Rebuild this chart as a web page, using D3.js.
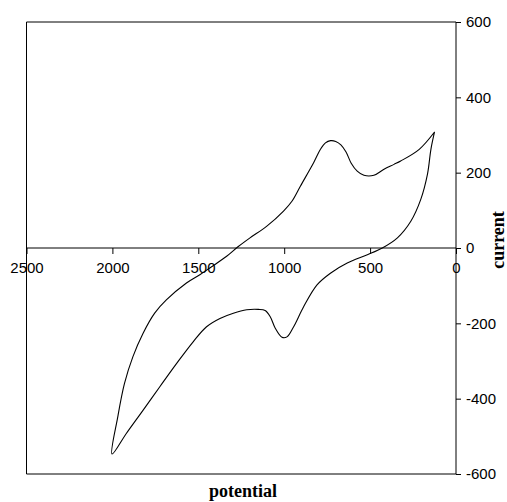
<!DOCTYPE html>
<html>
<head>
<meta charset="utf-8">
<script src="https://cdn.jsdelivr.net/npm/d3@7"></script>
<style>
  body { margin: 0; background: #fff; }
  svg { display: block; }
</style>
</head>
<body>
<svg id="chart" width="507" height="502"></svg>
<script>
// cyclic scan, one closed loop (potential, current)
var potential = [125, 214, 322, 361, 419, 478, 536, 575, 610, 640, 670, 700, 730, 760, 789, 828, 906, 955, 1004,
    1101, 1199, 1267, 1335, 1433, 1491, 1569, 1686, 1754, 1822, 1881, 1930, 1969, 2002,
    1920, 1822, 1725, 1627, 1530, 1452, 1374, 1296, 1218, 1150, 1111, 1082, 1052, 1013,
    984, 945, 887, 809, 731, 633, 516, 429, 341, 263, 205, 166, 146, 125];
var current = [308, 262, 231, 222, 209, 193, 193, 204, 225, 255, 274, 283, 285, 279, 262, 227, 164, 124, 98,
    58, 27, 4, -22, -53, -71, -93, -138, -173, -227, -289, -360, -449, -547,
    -493, -431, -369, -307, -249, -209, -187, -173, -164, -163, -166, -182, -213, -237,
    -236, -209, -156, -98, -67, -40, -18, 0, 27, 71, 129, 196, 262, 308];

var xTicks = [2500, 2000, 1500, 1000, 500, 0];
var yTicks = [600, 400, 200, 0, -200, -400, -600];

var svg = d3.select('#chart');
var plotLeft = 26.5, plotRight = 456, plotTop = 22, plotBottom = 474;

var x = d3.scaleLinear().domain([2500, 0]).range([plotLeft, plotRight]);
var y = d3.scaleLinear().domain([600, -600]).range([plotTop, plotBottom]);

// frame (top, left, bottom)
svg.append('path')
    .attr('d', 'M' + plotRight + ',' + plotTop + 'H' + plotLeft + 'V' + plotBottom + 'H' + plotRight)
    .attr('fill', 'none')
    .attr('stroke', '#000')
    .attr('stroke-width', 1);

// x axis sits on current = 0
var xAxis = svg.append('g')
    .attr('transform', 'translate(0,' + y(0) + ')')
    .call(d3.axisBottom(x).tickValues(xTicks).tickSize(6).tickPadding(8).tickFormat(function(d) { return String(d); }));
xAxis.select('.domain').attr('d', 'M' + plotLeft + ',0H' + plotRight);
xAxis.selectAll('text')
    .style('font-family', 'Liberation Sans, Arial, sans-serif')
    .style('font-size', '15px')
    .attr('fill', '#000');

// y axis on the right edge
var yAxis = svg.append('g')
    .attr('transform', 'translate(' + plotRight + ',0)')
    .call(d3.axisRight(y).tickValues(yTicks).tickSize(5).tickPadding(5).tickFormat(function(d) { return String(d); }));
yAxis.select('.domain').attr('d', 'M0,' + plotTop + 'V' + plotBottom);
yAxis.selectAll('text')
    .style('font-family', 'Liberation Sans, Arial, sans-serif')
    .style('font-size', '15px')
    .attr('fill', '#000');

// the trace
var line = d3.line()
    .x(function(d, i) { return x(potential[i]); })
    .y(function(d, i) { return y(current[i]); })
    .curve(d3.curveCatmullRom.alpha(0.5));

svg.append('path')
    .datum(potential)
    .attr('d', line)
    .attr('fill', 'none')
    .attr('stroke', '#000')
    .attr('stroke-width', 1.1);

// axis titles
svg.append('text')
    .attr('x', 243)
    .attr('y', 497)
    .attr('text-anchor', 'middle')
    .style('font-family', 'Liberation Serif, Times New Roman, serif')
    .style('font-weight', 'bold')
    .style('font-size', '18px')
    .text('potential');

svg.append('text')
    .attr('transform', 'translate(504,240) rotate(-90)')
    .attr('text-anchor', 'middle')
    .style('font-family', 'Liberation Serif, Times New Roman, serif')
    .style('font-weight', 'bold')
    .style('font-size', '18px')
    .text('current');
</script>
</body>
</html>
